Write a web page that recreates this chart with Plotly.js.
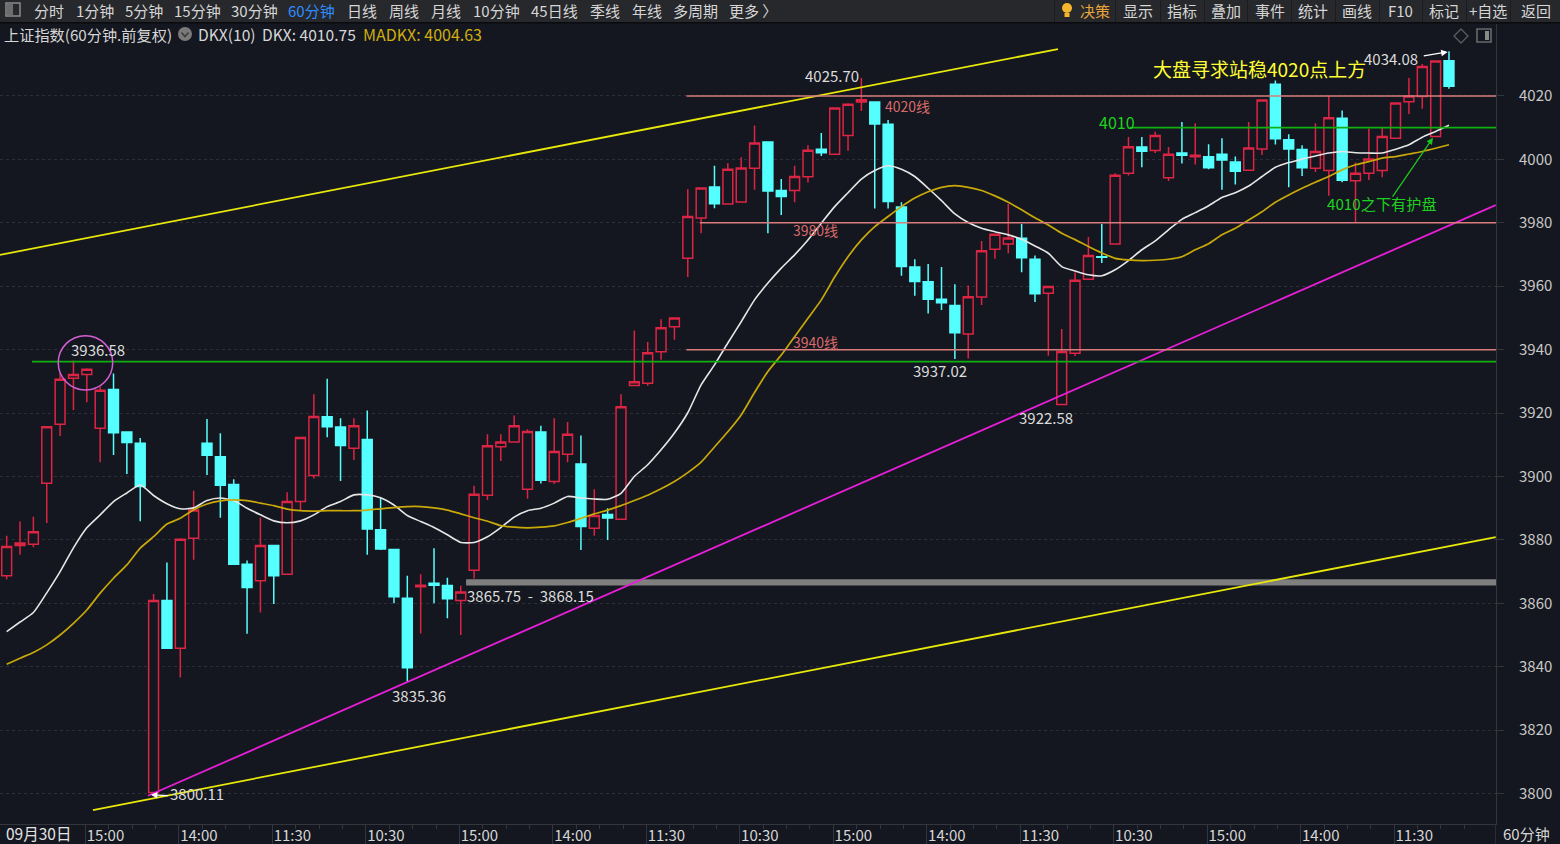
<!DOCTYPE html>
<html><head><meta charset="utf-8">
<script src="https://cdn.plot.ly/plotly-3.0.1.min.js"></script>
<style>html,body{margin:0;padding:0;background:#14171f;overflow:hidden}#c{width:1560px;height:844px}</style>
</head><body><div id="c"></div>
<script>
const open_=[3868.7,3878.2,3878.6,3897.9,3916.5,3931.0,3932.2,3915.2,3927.4,3914.0,3910.5,3800.3,3860.9,3845.8,3880.5,3910.5,3906.2,3897.5,3872.3,3867.1,3878.2,3869.2,3892.1,3900.3,
3918.8,3915.6,3908.9,3911.7,3883.2,3877.0,3861.6,3865.2,3866.3,3865.6,3860.9,3870.4,3894.1,3909.4,3910.9,3896.0,3914.0,3898.4,3907.0,3903.9,3883.7,3888.0,3886.5,3928.7,3929.4,3939.3,3947.2,
3968.8,3981.5,3991.3,3985.9,3986.6,3997.2,4005.5,3990.2,3990.2,3994.5,4003.2,4001.6,4007.5,4018.1,4018.1,4011.1,3985.0,3966.1,3961.4,3955.9,3953.9,3944.9,3956.6,3971.7,3973.3,3975.1,3968.5,3957.8,3922.7,
3938.9,3962.2,3969.3,3973.3,3995.6,4003.9,4002.8,3994.2,4002.0,4000.8,4000.8,4001.6,3999.2,3996.6,4003.3,4023.7,4006.2,4003.1,3997.2,3996.5,4013.0,3993.3,3995.6,3996.5,4006.7,4018.2,4019.8,4007.2,4031.1];
const high_=[3881.3,3885.8,3887.3,3915.7,3932.6,3936.58,3934.1,3928.3,3932.5,3914.0,3912.1,3862.9,3872.9,3880.5,3895.5,3918.1,3913.6,3899.1,3873.5,3887.1,3878.2,3895.0,3912.3,3925.9,
3930.8,3918.4,3918.4,3920.8,3893.3,3877.0,3868.7,3869.2,3877.4,3868.1,3865.5,3897.1,3913.3,3913.3,3919.2,3914.9,3916.0,3918.4,3917.2,3912.9,3896.0,3890.0,3925.9,3946.0,3942.4,3949.6,3950.0,
3990.6,3991.0,3998.0,3998.8,4000.7,4010.7,4005.5,3993.8,3998.0,4004.5,4008.3,4016.2,4017.7,4025.70,4018.1,4012.4,3986.5,3968.5,3967.0,3966.1,3960.6,3960.2,3974.3,3976.4,3985.9,3979.6,3969.7,3959.9,3946.5,
3964.3,3975.5,3979.6,3995.6,4007.1,4007.1,4008.7,4003.9,4011.8,4011.4,4004.8,4006.7,4000.9,4011.8,4018.7,4024.9,4007.9,4004.5,4011.4,4020.0,4015.4,3999.0,4009.7,4010.2,4017.8,4025.7,4030.1,4031.2,4034.08];
const low_=[3867.6,3875.3,3877.7,3885.3,3912.8,3921.0,3923.4,3904.5,3906.8,3900.8,3885.9,3800.11,3845.6,3836.6,3873.7,3900.5,3887.0,3872.3,3850.4,3857.1,3859.8,3869.2,3889.4,3899.4,
3912.4,3898.6,3905.2,3875.3,3876.8,3860.0,3835.36,3850.5,3860.0,3855.3,3850.0,3867.8,3892.6,3904.9,3910.9,3893.0,3897.8,3897.6,3904.5,3876.8,3881.3,3880.0,3886.5,3928.7,3928.6,3936.8,3943.1,
3962.9,3976.7,3984.6,3985.9,3986.6,3990.4,3976.7,3982.5,3986.5,3992.7,4001.1,4001.6,4002.7,4015.3,3984.5,3984.5,3963.3,3957.0,3951.4,3952.5,3937.02,3937.2,3954.1,3968.7,3970.4,3964.4,3955.0,3938.1,3922.58,
3938.0,3962.2,3967.3,3973.3,3994.9,3997.5,4002.0,3993.2,3998.7,3998.4,3996.9,3990.4,3992.1,3996.6,4001.4,4004.7,3991.2,3994.8,3996.0,3988.5,3992.8,3980.1,3993.5,3994.4,4006.7,4014.3,4016.0,4007.2,4022.3];
const close_=[3877.9,3879.0,3882.6,3915.7,3930.7,3932.2,3933.8,3927.2,3913.8,3910.7,3896.8,3860.9,3845.8,3880.2,3889.4,3906.7,3897.2,3872.3,3865.0,3878.2,3868.7,3892.1,3912.3,3918.9,
3915.7,3909.8,3916.0,3883.4,3877.1,3862.1,3839.7,3865.7,3865.7,3861.4,3863.6,3894.4,3909.7,3910.9,3916.0,3914.2,3898.8,3907.9,3913.3,3884.2,3887.7,3886.9,3922.0,3929.9,3939.0,3946.9,3950.0,
3982.0,3991.0,3986.0,3996.9,3997.3,4005.2,3990.0,3988.3,3994.6,4002.9,4002.1,4016.2,4017.4,4018.8,4011.2,3986.7,3966.2,3961.5,3955.9,3954.8,3945.3,3956.7,3971.2,3976.4,3975.2,3969.0,3957.6,3959.9,3939.4,
3961.9,3969.7,3969.1,3995.0,4004.0,4002.6,4007.5,4001.6,4001.3,4001.3,3997.4,3999.8,3996.3,4003.6,4018.7,4006.5,4003.3,3997.4,4002.5,4013.1,3993.4,3995.6,4000.1,4007.2,4017.8,4020.0,4029.3,4031.0,4023.1];
const dkx=[3851.1,3854.1,3857.1,3863.3,3870.0,3877.5,3883.8,3887.9,3892.1,3894.8,3897.3,3894.0,3891.4,3889.8,3890.1,3892.4,3893.2,3892.4,3890.0,3887.9,3886.0,3885.4,3886.0,3887.9,
3890.5,3892.1,3894.2,3894.2,3893.3,3891.0,3887.7,3885.8,3883.9,3881.6,3879.2,3879.2,3881.0,3883.9,3887.2,3889.2,3890.0,3891.6,3893.7,3893.2,3892.9,3892.8,3894.7,3900.0,3903.7,3908.4,3913.7,
3920.1,3928.9,3935.2,3942.1,3948.8,3955.7,3961.0,3965.7,3969.9,3974.6,3979.9,3985.1,3989.5,3993.8,3996.5,3998.0,3996.9,3994.6,3990.9,3987.0,3982.8,3980.1,3978.3,3977.2,3976.2,3974.8,3972.7,3970.4,3966.2,
3964.8,3963.6,3963.3,3965.2,3968.1,3971.5,3974.3,3977.8,3981.1,3983.2,3985.4,3988.0,3989.5,3991.6,3994.6,3997.5,3999.0,4000.1,4001.1,4002.0,4002.5,4002.1,4002.0,4002.0,4003.2,4004.6,4007.0,4008.8,4010.75];
const madkx=[3840.8,3842.7,3844.5,3846.9,3850.0,3853.7,3857.9,3863.2,3867.9,3872.1,3877.4,3881.0,3885.0,3886.8,3889.5,3891.3,3892.3,3892.6,3892.4,3891.6,3890.8,3889.7,3889.2,3889.1,
3889.2,3889.2,3889.2,3889.4,3889.8,3890.2,3890.5,3890.5,3890.1,3889.4,3888.2,3887.0,3885.9,3884.5,3884.0,3883.8,3884.0,3884.4,3885.5,3886.8,3888.2,3889.4,3890.8,3892.4,3894.1,3896.1,3898.4,
3901.2,3904.5,3909.3,3914.1,3919.4,3926.5,3933.1,3938.3,3944.1,3949.9,3955.7,3962.9,3969.3,3974.6,3978.8,3982.0,3985.1,3987.8,3989.8,3991.2,3991.7,3991.2,3990.2,3988.5,3986.5,3984.1,3981.6,3979.3,3976.7,
3974.7,3972.5,3970.5,3968.8,3968.3,3968.1,3968.2,3968.5,3969.3,3971.5,3973.4,3976.2,3978.3,3980.9,3983.5,3986.5,3988.8,3990.9,3992.8,3994.6,3996.7,3998.3,3999.3,4000.4,4000.9,4001.7,4002.5,4003.5,4004.63];
const candleIdx=open_.map((_,i)=>i);
const yTicks=[3800,3820,3840,3860,3880,3900,3920,3940,3960,3980,4000,4020];
const xTickPos=[5.9,12.9,19.9,26.9,33.9,40.9,47.9,54.9,61.9,68.9,75.9,82.9,89.9,96.9,103.9];
const xTickText=['15:00','14:00','11:30','10:30','15:00','14:00','11:30','10:30','15:00','14:00','11:30','10:30','15:00','14:00','11:30'];
const yellowUpX=[-0.5,78.72], yellowUpY=[3969.9,4034.8];
const yellowLowX=[6.46,111.5], yellowLowY=[3794.8,3880.9];
const magentaX=[10.58,111.5], magentaY=[3799.3,3985.6];
const pinkLevels=[{y:4020,x0:50.9},{y:3980,x0:51.9},{y:3940,x0:50.9}];
const greenLevels=[{y:3936.2,x0:1.9},{y:4010,x0:84.1}];
const bandLow=3865.6, bandHigh=3867.6, bandX0=34.4, xEnd=111.52;

const F='"Noto Sans CJK SC","Noto Sans",sans-serif';
const px=x=>x/1496, py=y=>(824-y)/800;
const annos=[], shapes=[];
function note(text,i,p,color,size){annos.push({text,x:i,y:p,xref:'x',yref:'y',xanchor:'left',yanchor:'middle',xshift:-2,yshift:1,showarrow:false,font:{family:F,size:size||15,color:color||'#dcdcdc'}});}
function arrow(i0,p0,i1,p1,color){annos.push({text:'',x:i1,y:p1,ax:i0,ay:p0,xref:'x',yref:'y',axref:'x',ayref:'y',showarrow:true,arrowhead:2,arrowsize:1,arrowwidth:1.3,arrowcolor:color});}
function label(text,x,y,color,size,ys){annos.push({text,x:px(x),y:py(y),xref:'paper',yref:'paper',xanchor:'left',yanchor:'middle',xshift:-2,yshift:ys===undefined?1:ys,showarrow:false,font:{family:F,size:size||15,color:color||'#d6d6d6'}});}
function box(x0,y0,x1,y1,fill,line,w,type){shapes.push({type:type||'rect',xref:'paper',yref:'paper',x0:px(x0),x1:px(x1),y0:py(y0),y1:py(y1),fillcolor:fill||'rgba(0,0,0,0)',line:{color:line||'rgba(0,0,0,0)',width:w||0},layer:'above'});}

// chart notes
note('3936.58',4.81,3939.6);
note('4025.70',59.8,4026.0);
note('4020线',65.8,4016.5,'#d96a6a',14);
note('3980线',58.9,3977.4,'#d96a6a',14);
note('3940线',58.9,3942.1,'#d96a6a',14);
note('3937.02',67.9,3933.0);
note('3922.58',75.8,3918.2);
note('3865.75\u00a0\u00a0-\u00a0\u00a03868.15',34.5,3862.0);
note('3835.36',28.85,3830.5);
note('3800.11',12.2,3799.6);
note('4034.08',101.6,4031.4);
note('大盘寻求站稳4020点上方',85.8,4028.5,'#ffff33',19);
note('4010',81.8,4011.5,'#1fd11f',16);
note('4010之下有护盘',98.9,3986,'#1fd11f',15.2);
arrow(12.2,3799.3,10.8,3799.6,'#ffffff');
arrow(106,4032.6,107.9,4033.9,'#ffffff');
arrow(103.7,3987.8,106.8,4006.8,'#1fc41f');

// level lines
pinkLevels.forEach(l=>shapes.push({type:'line',xref:'x',yref:'y',x0:l.x0,x1:xEnd,y0:l.y,y1:l.y,line:{color:'#d97c7c',width:1.5},layer:'above'}));
greenLevels.forEach(l=>shapes.push({type:'line',xref:'x',yref:'y',x0:l.x0,x1:xEnd,y0:l.y,y1:l.y,line:{color:'#10b010',width:1.8},layer:'above'}));
shapes.push({type:'rect',xref:'x',yref:'y',x0:bandX0,x1:xEnd,y0:bandLow,y1:bandHigh,fillcolor:'#7f7f7f',line:{width:0},layer:'below'});
shapes.push({type:'circle',xref:'x',yref:'y',x0:3.86,x1:7.94,y0:3927.3,y1:3944.4,line:{color:'#d45fd4',width:1.5},fillcolor:'rgba(0,0,0,0)',layer:'above'});

// toolbar
box(0,0,1560,22,'#26282c');
box(0,22,1560,23.5,'#0a0b0e');
box(6,3,20,16,'rgba(0,0,0,0)','#8a8a8a',1.5);
box(7,4,13,15,'#6d6d6d');
[['分时',34],['1分钟',76],['5分钟',125],['15分钟',174],['30分钟',231],['60分钟',288,'#2f8cff'],['日线',347],['周线',389],['月线',431],['10分钟',473],['45日线',531],['季线',590],['年线',632],['多周期',673],['更多 〉',729]]
 .forEach(t=>label(t[0],t[1],11,t[2]||'#d6d6d6',15,0));
[1054,1115,1160,1204,1247,1291,1335,1379,1422,1466,1510].forEach(x=>box(x,0,x+1,22,'#1b1c1f'));
box(1062,3,1072,13,'#f3b62c',null,0,'circle');
box(1064.5,13,1069.5,17,'#f3b62c');
[['决策',1080,'#e9a53a'],['显示',1123],['指标',1167],['叠加',1211],['事件',1255],['统计',1298],['画线',1342],['F10',1388],['标记',1429],['+自选',1469],['返回',1521]]
 .forEach(t=>label(t[0],t[1],11,t[2]||'#d6d6d6',15,0));

// header row
label('上证指数(60分钟.前复权)',4,35,'#d6d6d6',15.2);
box(178,27,192,41,'#7a7a7a',null,0,'circle');
shapes.push({type:'path',xref:'paper',yref:'paper',path:`M ${px(181.5)} ${py(32.5)} L ${px(185)} ${py(36.5)} L ${px(188.5)} ${py(32.5)}`,line:{color:'#3c3c3c',width:1.5},layer:'above'});
label('DKX(10)',198,35,'#d6d6d6',15.6);
label('DKX: 4010.75',262,35,'#d6d6d6',15.6);
label('MADKX: 4004.63',363,35,'#cfae10',16);
shapes.push({type:'path',xref:'paper',yref:'paper',path:`M ${px(1461)} ${py(29)} L ${px(1468)} ${py(36)} L ${px(1461)} ${py(43)} L ${px(1454)} ${py(36)} Z`,line:{color:'#5a5c60',width:1.3},layer:'above'});
box(1477,29,1491,42,'rgba(0,0,0,0)','#6a6a6a',1.6);
box(1485,31,1489,40,'#8a8a8a');

// bottom row
box(1495.2,824,1496,844,'#30333a');
label('09月30日',6,834,'#e4e4e4',15.5);
label('60分钟',1503,834,'#d6d6d6',15);

const minorPos=[];
xTickPos.forEach(t=>{[0.25,0.5,0.75].forEach(f=>minorPos.push(t+7*f));});

const data=[
 {type:'candlestick',x:candleIdx,open:open_,high:high_,low:low_,close:close_,whiskerwidth:0,hoverinfo:'skip',showlegend:false,
  increasing:{line:{color:'#dc2444',width:1.5},fillcolor:'#14171f'},
  decreasing:{line:{color:'#54ffff',width:1.5},fillcolor:'#54ffff'}},
 {type:'scatter',mode:'lines',name:'DKX',x:candleIdx,y:dkx,line:{color:'#e6e6e6',width:1.6,shape:'spline',smoothing:0.6},hoverinfo:'skip',showlegend:false},
 {type:'scatter',mode:'lines',name:'MADKX',x:candleIdx,y:madkx,line:{color:'#c9a80a',width:1.7,shape:'spline',smoothing:0.6},hoverinfo:'skip',showlegend:false},
 {type:'scatter',mode:'lines',x:yellowUpX,y:yellowUpY,line:{color:'#e8e80a',width:1.8},hoverinfo:'skip',showlegend:false},
 {type:'scatter',mode:'lines',x:yellowLowX,y:yellowLowY,line:{color:'#e8e80a',width:1.8},hoverinfo:'skip',showlegend:false},
 {type:'scatter',mode:'lines',x:magentaX,y:magentaY,line:{color:'#e81ed8',width:1.8},hoverinfo:'skip',showlegend:false}
];
const layout={
 width:1560,height:844,margin:{l:0,r:64,t:24,b:20,pad:0},
 paper_bgcolor:'#14171f',plot_bgcolor:'#14171f',showlegend:false,boxgap:0.15,boxgroupgap:0.13,hovermode:false,
 font:{family:F,color:'#d6d6d6'},
 xaxis:{type:'linear',range:[-0.5,xEnd],rangeslider:{visible:false},showgrid:false,zeroline:false,
  tickmode:'array',tickvals:xTickPos,ticktext:xTickText,ticks:'outside',ticklen:20,tickwidth:1,tickcolor:'#33363d',
  tickfont:{family:F,size:15,color:'#d6d6d6'},ticklabelshift:20,ticklabelstandoff:-22,
  minor:{tickmode:'array',tickvals:minorPos,ticks:'outside',ticklen:4,tickwidth:1,tickcolor:'#33363d',showgrid:false},
  showline:true,linecolor:'#33363d',linewidth:1},
 yaxis:{side:'right',range:[3790.4,4042.7],tickmode:'array',tickvals:yTicks,ticks:'outside',ticklen:7,tickwidth:1,tickcolor:'#33363d',
  tickfont:{family:F,size:15,color:'#c8c8c8'},ticklabelstandoff:12,tickformat:'d',
  showgrid:true,gridcolor:'#2c2f36',griddash:'dot',gridwidth:1,zeroline:false,showline:true,linecolor:'#33363d',linewidth:1},
 annotations:annos,shapes:shapes
};
Plotly.newPlot('c',data,layout,{displayModeBar:false,staticPlot:true});
</script></body></html>
